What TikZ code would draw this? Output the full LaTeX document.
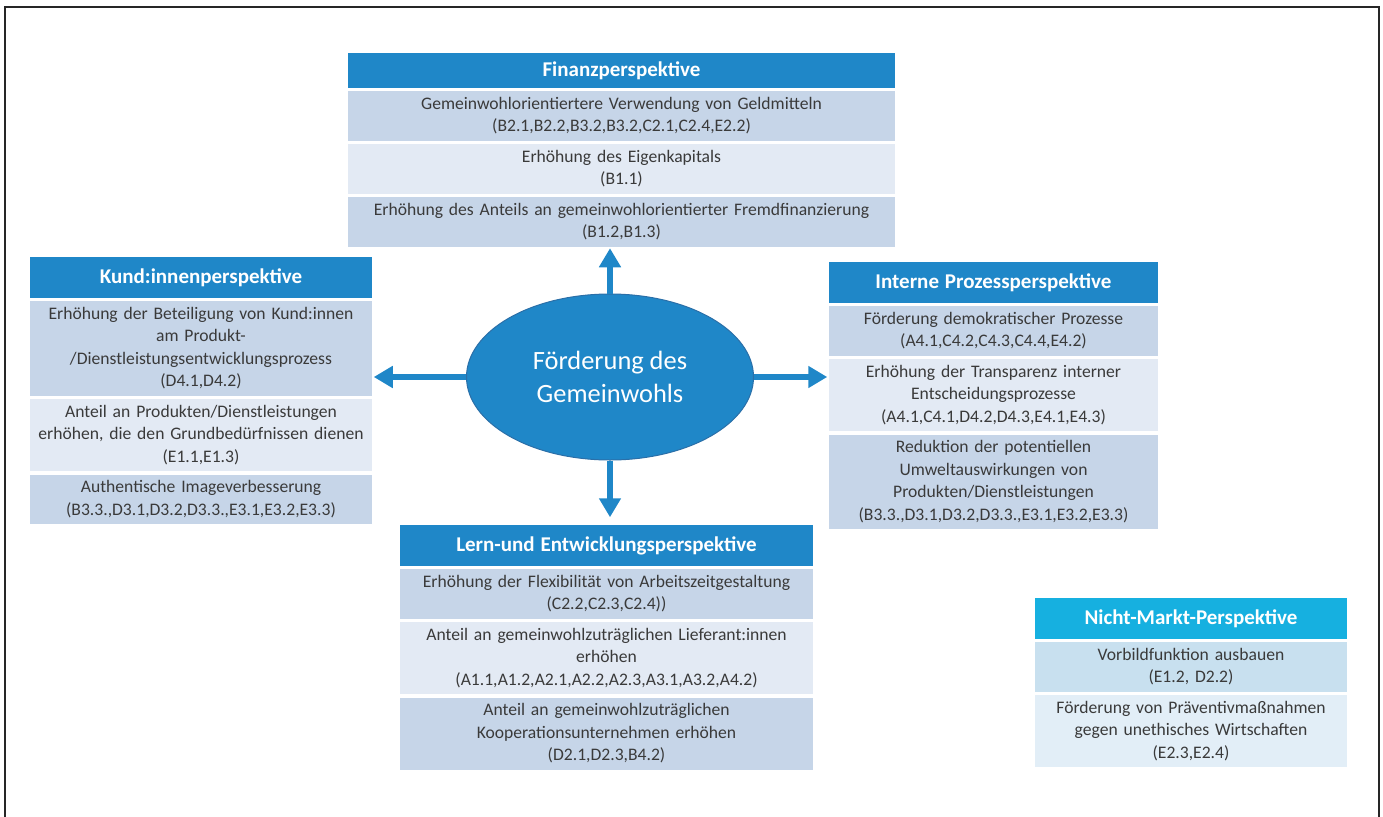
\documentclass[tikz,border=0pt]{standalone}
\usepackage{fontspec}
\setmainfont{Carlito}
\usepackage{xcolor}
\usepackage{tikz}
\usetikzlibrary{positioning, arrows.meta, shapes.geometric, shapes.multipart, calc}

\definecolor{kopfblau}{HTML}{1F87C8}
\definecolor{kopfcyan}{HTML}{16B0E0}
\definecolor{zeiledunkel}{HTML}{C6D5E8}
\definecolor{zeilehell}{HTML}{E3EAF4}
\definecolor{cyandunkel}{HTML}{C8E0EF}
\definecolor{cyanhell}{HTML}{E2EEF7}
\definecolor{schrift}{HTML}{3A3A3A}
\definecolor{ellrand}{HTML}{2B6FA8}

\begin{document}
\begin{tikzpicture}[
    x=1pt, y=-1pt,
    % ---- Perspektive (Kopf + Zeilen) ----
    perspektive/.style={
        rectangle split,
        rectangle split parts=4,
        rectangle split part fill={kopfblau, zeiledunkel, zeilehell, zeiledunkel},
        draw=white,
        line width=3.5pt,
        outer sep=0pt,
        align=center,
        inner xsep=2pt,
        inner ysep=2.25pt,
        text=schrift,
        font=\fontsize{17.6}{22.5}\selectfont,
        anchor=north west
    },
    % ---- Nicht-Markt ----
    nichtmarkt/.style={
        perspektive,
        rectangle split parts=3,
        rectangle split part fill={kopfcyan, cyandunkel, cyanhell}
    },
    % ---- Ziel in der Mitte ----
    ziel/.style={
        ellipse,
        fill=kopfblau,
        draw=ellrand,
        line width=1pt,
        minimum width=287pt,
        minimum height=166pt,
        inner sep=0pt,
        align=center,
        text=white,
        font=\fontsize{26.4}{33}\selectfont
    },
    % ---- Pfeile ----
    pfeil/.style={
        draw=kopfblau,
        line width=6pt,
        -{Triangle[width=21pt,length=19pt]}
    },
    rahmen/.style={draw=black!85, line width=2.5pt}
]

% ---- Kopf- und Zeilenmakros ----
\newcommand{\kopf}[2][36]{\textcolor{white}{\rule[\dimexpr6.5pt-#1pt/2\relax]{0pt}{#1pt}\fontsize{21}{24}\selectfont\bfseries #2}}
\newcommand{\zeile}[1]{\strut #1\strut}

\useasboundingbox (0,0) rectangle (1383,816);

% ---------- Rahmen ----------
\draw[rahmen] (5,7) rectangle (1379,840);

% ---------- OBEN: Finanzperspektive ----------
\node[perspektive, text width=546.5pt] (Fin) at (346.25,51.25) {
    \kopf[30]{Finanzperspektive} \nodepart{second}
    \zeile{Gemeinwohlorientiertere Verwendung von Geldmitteln\\(B2.1,B2.2,B3.2,B3.2,C2.1,C2.4,E2.2)} \nodepart{third}
    \zeile{Erhöhung des Eigenkapitals\\(B1.1)} \nodepart{fourth}
    \zeile{Erhöhung des Anteils an gemeinwohlorientierter Fremdfinanzierung\\(B1.2,B1.3)}
};

% ---------- LINKS: Kund:innenperspektive ----------
\node[perspektive, text width=341.5pt] (Kund) at (28.25,255.25) {
    \kopf{Kund:innenperspektive} \nodepart{second}
    \zeile{Erhöhung der Beteiligung von Kund:innen\\am Produkt-\\/Dienstleistungsentwicklungsprozess\\(D4.1,D4.2)} \nodepart{third}
    \zeile{Anteil an Produkten/Dienstleistungen\\erhöhen, die den Grundbedürfnissen dienen\\(E1.1,E1.3)} \nodepart{fourth}
    \zeile{Authentische Imageverbesserung\\(B3.3.,D3.1,D3.2,D3.3.,E3.1,E3.2,E3.3)}
};

% ---------- RECHTS: Interne Prozessperspektive ----------
\node[perspektive, text width=328.5pt] (Int) at (827.25,260.25) {
    \kopf{Interne Prozessperspektive} \nodepart{second}
    \zeile{Förderung demokratischer Prozesse\\(A4.1,C4.2,C4.3,C4.4,E4.2)} \nodepart{third}
    \zeile{Erhöhung der Transparenz interner\\Entscheidungsprozesse\\(A4.1,C4.1,D4.2,D4.3,E4.1,E4.3)} \nodepart{fourth}
    \zeile{Reduktion der potentiellen\\Umweltauswirkungen von\\Produkten/Dienstleistungen\\(B3.3.,D3.1,D3.2,D3.3.,E3.1,E3.2,E3.3)}
};

% ---------- UNTEN: Lern-und Entwicklungsperspektive ----------
\node[perspektive, text width=412.5pt] (Lern) at (398.25,523.25) {
    \kopf{Lern-und Entwicklungsperspektive} \nodepart{second}
    \zeile{Erhöhung der Flexibilität von Arbeitszeitgestaltung\\(C2.2,C2.3,C2.4))} \nodepart{third}
    \zeile{Anteil an gemeinwohlzuträglichen Lieferant:innen\\erhöhen\\(A1.1,A1.2,A2.1,A2.2,A2.3,A3.1,A3.2,A4.2)} \nodepart{fourth}
    \zeile{Anteil an gemeinwohlzuträglichen\\Kooperationsunternehmen erhöhen\\(D2.1,D2.3,B4.2)}
};

% ---------- Nicht-Markt-Perspektive ----------
\node[nichtmarkt, text width=311.5pt] (Nicht) at (1033.25,596.25) {
    \kopf{Nicht-Markt-Perspektive} \nodepart{second}
    \zeile{Vorbildfunktion ausbauen\\(E1.2, D2.2)} \nodepart{third}
    \zeile{Förderung von Präventivmaßnahmen\\gegen unethisches Wirtschaften\\(E2.3,E2.4)}
};

% ---------- MITTE ----------
\node[ziel] (Ziel) at (610,377) {Förderung des\\Gemeinwohls};

% ============================================================
%  PFEILE
% ============================================================

% Ziel -> Finanz
\draw[pfeil] (Ziel.north) -- (Ziel.north |- Fin.south);

% Ziel -> Kund:innen
\draw[pfeil] (Ziel.west) -- (Ziel.west -| Kund.east);

% Ziel -> Interne Prozesse
\draw[pfeil] (Ziel.east) -- (Ziel.east -| Int.west);

% Ziel -> Lern
\draw[pfeil, shorten >=6pt] (Ziel.south) -- (Ziel.south |- Lern.north);

\end{tikzpicture}
\end{document}
